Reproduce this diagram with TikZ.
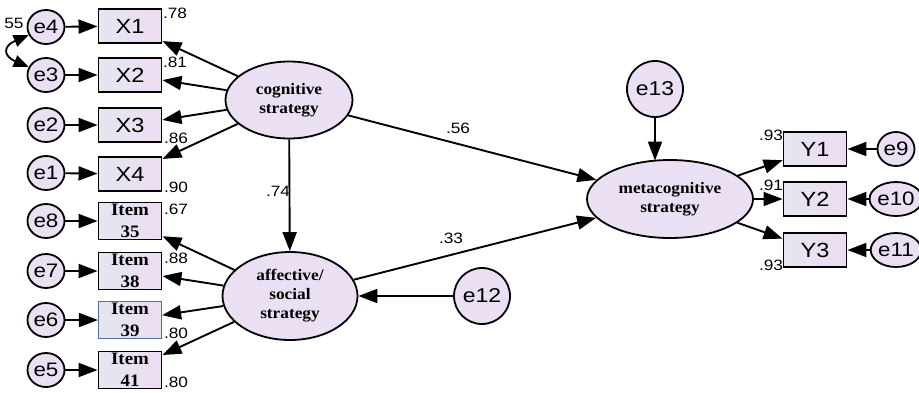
\documentclass[tikz,border=0pt]{standalone}
\usepackage{fontspec}
\setmainfont{Liberation Sans}
\newfontfamily\sansw[FakeStretch=1.15]{Liberation Sans}
\newfontfamily\serifw[FakeStretch=1.08]{Liberation Serif}
\usetikzlibrary{arrows.meta,shapes.geometric,calc}
\definecolor{fillc}{RGB}{234,223,243}
\definecolor{boxl}{RGB}{228,230,240}
\definecolor{boxr}{RGB}{238,220,242}
\definecolor{blueb}{RGB}{80,110,165}
\tikzset{
  errc/.style={ellipse,draw,line width=1.8pt,fill=fillc,minimum width=37pt,minimum height=34pt,inner sep=0pt,font=\sansw\fontsize{19.5}{19.5}\selectfont},
  bigerr/.style={circle,draw,line width=1.8pt,fill=fillc,minimum size=56pt,inner sep=0pt,font=\sansw\fontsize{20}{20}\selectfont},
  obsbox/.style={rectangle,draw,line width=1.9pt,left color=boxl,right color=boxr,minimum width=63pt,minimum height=34pt,inner sep=0pt,font=\sansw\fontsize{20.5}{20.5}\selectfont},
  itembox/.style={obsbox,minimum height=37pt,font=\serifw\bfseries\fontsize{17.5}{22}\selectfont,align=center},
  latent/.style={ellipse,draw,line width=1.8pt,fill=fillc,inner sep=0pt,font=\serifw\bfseries\fontsize{16}{19}\selectfont,align=center},
  arr/.style={line width=1.9pt,-{Triangle[length=19pt,width=14pt]}},
  coef/.style={font=\sansw\fontsize{15}{15}\selectfont,inner sep=0pt}
}
\begin{document}
\begin{tikzpicture}[x=1pt,y=-1pt]
\useasboundingbox (0,0) rectangle (919,392);
% latent variables
\node[latent,minimum width=127pt,minimum height=77pt] (cog) at (289,100) {cognitive\\strategy};
\node[latent,minimum width=135pt,minimum height=88pt] (aff) at (290,296) {affective/\\social\\strategy};
\node[latent,minimum width=166pt,minimum height=78pt] (meta) at (670,199) {metacognitive\\strategy};
% observed
\node[obsbox] (X1) at (130,26) {X1};
\node[obsbox] (X2) at (130,75) {X2};
\node[obsbox] (X3) at (130,125) {X3};
\node[obsbox] (X4) at (130,174) {X4};
\node[itembox] (I35) at (130,221) {Item\\35};
\node[itembox] (I38) at (130,271) {Item\\38};
\node[itembox,draw=blueb,line width=1.2pt] (I39) at (130,320) {Item\\39};
\node[itembox] (I41) at (130,370) {Item\\41};
\node[obsbox] (Y1) at (815,149) {Y1};
\node[obsbox] (Y2) at (815,199) {Y2};
\node[obsbox] (Y3) at (815,250) {Y3};
% errors
\node[errc] (e4) at (46,27) {e4};
\node[errc] (e3) at (46,75) {e3};
\node[errc] (e2) at (46,125) {e2};
\node[errc] (e1) at (46,173) {e1};
\node[errc] (e8) at (46,221) {e8};
\node[errc] (e7) at (46,271) {e7};
\node[errc] (e6) at (46,320) {e6};
\node[errc] (e5) at (46,370) {e5};
\node[errc] (e9) at (896,149) {e9};
\node[errc] (e10) at (896,199) {e10};
\node[errc] (e11) at (896,250) {e11};
\node[bigerr] (e13) at (655,89) {e13};
\node[bigerr] (e12) at (482,296) {e12};
\coordinate (e13tip) at ($(e13.south |- meta.north)+(0,1.5)$);
% error arrows
\foreach \e/\b in {e4/X1,e3/X2,e2/X3,e1/X4,e8/I35,e7/I38,e6/I39,e5/I41}
  \draw[arr] (\e) -- (\b);
\foreach \e/\b in {e9/Y1,e10/Y2,e11/Y3}
  \draw[arr] (\e) -- (\b);
\draw[arr] (e13) -- (e13tip);
\draw[arr] (e12) -- (aff);
% loadings
\foreach \b in {X1,X2,X3,X4} \draw[arr] (cog) -- (\b);
\foreach \b in {I35,I38,I39,I41} \draw[arr] (aff) -- (\b);
\foreach \b in {Y1,Y2,Y3} \draw[arr] (meta) -- (\b);
% structural
\draw[arr] (cog) -- (aff);
\draw[arr] (cog) -- (meta);
\draw[arr] (aff) -- (meta);
% covariance
\draw[line width=1.8pt,{Triangle[length=15pt,width=12pt]}-{Triangle[length=15pt,width=12pt]}] (e4.205) .. controls (3,46) and (3,56) .. (e3.155);
% coefficients
\node[coef] (c55) at (14,23) {55};
\node[coef] (c78) at (175,13) {.78};
\node[coef] (c81) at (175,62) {.81};
\node[coef] (c86) at (176,138) {.86};
\node[coef] (c90) at (176,187) {.90};
\node[coef] (c67) at (176,209) {.67};
\node[coef] (c88) at (176,258) {.88};
\node[coef] (c80a) at (176,333) {.80};
\node[coef] (c80b) at (176,382) {.80};
\node[coef] (c74) at (278,191) {.74};
\node[coef] (c56) at (458,128) {.56};
\node[coef] (c33) at (451,238) {.33};
\node[coef] (c93a) at (771,135) {.93};
\node[coef] (c91) at (771,185) {.91};
\node[coef] (c93b) at (771,265) {.93};
\end{tikzpicture}
\end{document}
